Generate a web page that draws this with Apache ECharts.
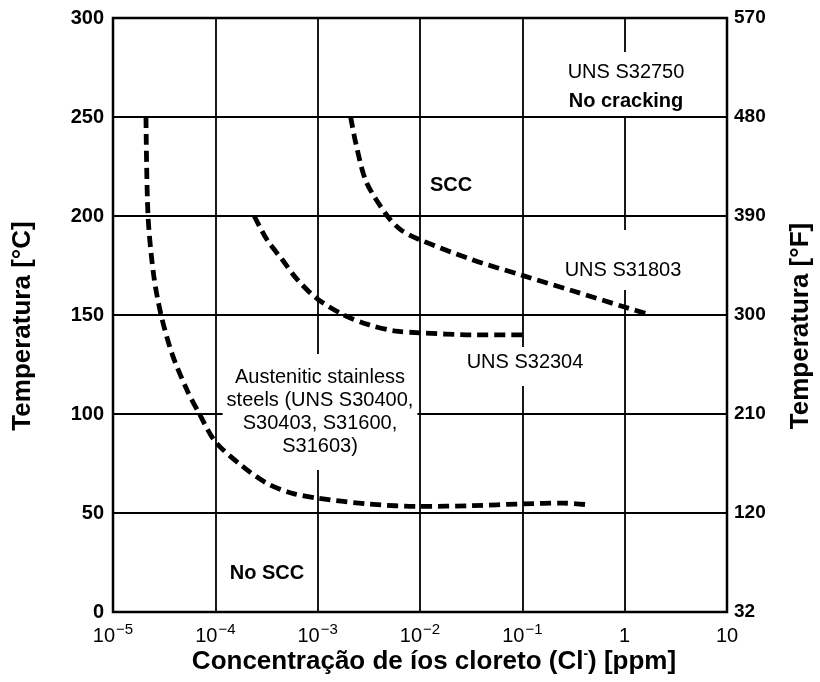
<!DOCTYPE html>
<html>
<head>
<meta charset="utf-8">
<script src="https://cdn.jsdelivr.net/npm/echarts@6/dist/echarts.min.js"></script>
<style>
  html, body { margin: 0; padding: 0; background: #fff; }
  #chart { width: 820px; height: 682px; }
</style>
</head>
<body>
<div id="chart"></div>
<script>
// Chloride concentration (ppm) vs temperature (°C) thresholds for SCC
const austeniticConc = [2.1e-5, 2.2e-5, 2.5e-5, 2.95e-5, 3.8e-5, 5.3e-5, 7.0e-5, 1.0e-4, 1.8e-4, 3.2e-4, 5.6e-4, 1.0e-3, 3.2e-3, 1.0e-2, 3.2e-2, 0.1, 0.25, 0.41];
const austeniticTemp = [250, 200, 170, 150, 130, 112, 100, 86, 74, 65, 60, 57.5, 54.5, 53.3, 53.7, 54.6, 55, 54.3];

const s31803Conc = [2.1e-3, 2.4e-3, 3.0e-3, 4.8e-3, 6.5e-3, 1.0e-2, 3.2e-2, 0.1, 0.32, 1.0, 1.8];
const s31803Temp = [250, 235, 217, 200, 193, 188, 178, 170, 162, 154, 150];

const s32304Conc = [2.4e-4, 3.2e-4, 4.5e-4, 6.3e-4, 1.0e-3, 1.8e-3, 3.2e-3, 5.6e-3, 1.0e-2, 3.2e-2, 0.1];
const s32304Temp = [200, 188, 178, 168, 158, 150, 145, 142, 141, 140, 140];

// Tick labels
const xTickBase = ['10', '10', '10', '10', '10', '1', '10'];
const xTickExp = ['\u22125', '\u22124', '\u22123', '\u22122', '\u22121', '', ''];
const yTicksC = ['0', '50', '100', '150', '200', '250', '300'];
const yTicksF = ['32', '120', '210', '300', '390', '480', '570'];

const FONT = '"Liberation Sans", Arial, Helvetica, sans-serif';

function pairs(xs, ys) { return xs.map((x, i) => [x, ys[i]]); }

const curveStyle = {
  color: '#000',
  width: 4.8,
  type: [11, 6],
  cap: 'butt'
};

function curve(name, xs, ys) {
  return {
    name: name,
    type: 'line',
    data: pairs(xs, ys),
    showSymbol: false,
    smooth: 0.3,
    lineStyle: curveStyle,
    silent: true,
    z: 5
  };
}

// Region labels; the white box masks the grid lines behind each label
function note(text, x, y, opts) {
  opts = opts || {};
  return {
    type: 'text',
    x: x, y: y, z: 3,
    style: Object.assign({
      text: text,
      fill: '#000',
      font: (opts.bold ? 'bold ' : '') + '20px ' + FONT,
      align: 'center',
      verticalAlign: opts.top ? 'top' : 'middle',
      backgroundColor: '#fff'
    }, opts.style || {})
  };
}

const chart = echarts.init(document.getElementById('chart'));
chart.setOption({
  backgroundColor: '#fff',
  animation: false,
  grid: {
    left: 113, right: 93, top: 18, bottom: 70,
    show: true, borderColor: '#000', borderWidth: 2.5, backgroundColor: 'transparent'
  },
  xAxis: {
    type: 'log',
    logBase: 10,
    min: 1e-5,
    max: 10,
    axisLine: { show: false },
    axisTick: { show: false },
    splitLine: { show: true, lineStyle: { color: '#000', width: 1.8 } },
    axisLabel: {
      margin: 10,
      formatter: function (v) {
        const i = Math.round(Math.log10(v)) + 5;
        const e = xTickExp[i];
        return '{b|' + xTickBase[i] + '}' + (e ? '{s|' + e + '}' : '');
      },
      rich: {
        b: { fontFamily: FONT, fontSize: 20, color: '#000', lineHeight: 24, verticalAlign: 'bottom' },
        s: { fontFamily: FONT, fontSize: 15, color: '#000', lineHeight: 24, verticalAlign: 'top', padding: [0, 0, 11, 1] }
      }
    }
  },
  yAxis: [
    {
      type: 'value', min: 0, max: 300, interval: 50,
      axisLine: { show: false },
      axisTick: { show: false },
      splitLine: { show: true, lineStyle: { color: '#000', width: 1.8 } },
      axisLabel: {
        margin: 9,
        color: '#000',
        fontFamily: FONT,
        fontWeight: 'bold',
        fontSize: 20,
        formatter: function (v) { return yTicksC[Math.round(v / 50)]; }
      }
    },
    {
      type: 'value', min: 0, max: 300, interval: 50, position: 'right',
      axisLine: { show: false },
      axisTick: { show: false },
      splitLine: { show: false },
      axisLabel: {
        margin: 7,
        color: '#000',
        fontFamily: FONT,
        fontWeight: 'bold',
        fontSize: 19,
        formatter: function (v) { return yTicksF[Math.round(v / 50)]; }
      }
    }
  ],
  graphic: [
    note('{r|UNS S32750}\n{b|No cracking}', 626, 52, {
      top: true,
      style: {
        padding: [6, 6, 0, 6],
        rich: {
          r: { font: '20px ' + FONT, fill: '#000', lineHeight: 29 },
          b: { font: 'bold 20px ' + FONT, fill: '#000', lineHeight: 29 }
        }
      }
    }),
    note('SCC', 451, 185, { bold: true }),
    note('UNS S31803', 623, 230, { top: true, style: { lineHeight: 24, padding: [28, 6, 8, 6] } }),
    note('UNS S32304', 525, 347, { top: true, style: { lineHeight: 24, padding: [3, 6, 12, 6] } }),
    note('Austenitic stainless\nsteels (UNS S30400,\nS30403, S31600,\nS31603)', 320, 412, {
      style: { lineHeight: 23, padding: [8, 4, 16, 4] }
    }),
    note('No SCC', 267, 573, { bold: true }),
    {
      type: 'text', x: 434, y: 662, z: 3,
      style: {
        text: '{t|Concentração de íos cloreto (Cl}{u|-}{t|) [ppm]}',
        align: 'center',
        verticalAlign: 'middle',
        rich: {
          t: { font: 'bold 26px ' + FONT, fill: '#000', lineHeight: 30 },
          u: { font: 'bold 14px ' + FONT, fill: '#000', lineHeight: 30, verticalAlign: 'top', padding: [0, 0, 14, 0] }
        }
      }
    },
    {
      type: 'text', x: 23, y: 326, z: 3, rotation: Math.PI / 2,
      style: { text: 'Temperatura [°C]', font: 'bold 26px ' + FONT, fill: '#000', align: 'center', verticalAlign: 'middle' }
    },
    {
      type: 'text', x: 801, y: 326, z: 3, rotation: Math.PI / 2,
      style: { text: 'Temperatura [°F]', font: 'bold 26px ' + FONT, fill: '#000', align: 'center', verticalAlign: 'middle' }
    }
  ],
  series: [
    curve('Austenitic stainless steels', austeniticConc, austeniticTemp),
    curve('UNS S31803', s31803Conc, s31803Temp),
    curve('UNS S32304', s32304Conc, s32304Temp)
  ]
});
</script>
</body>
</html>
